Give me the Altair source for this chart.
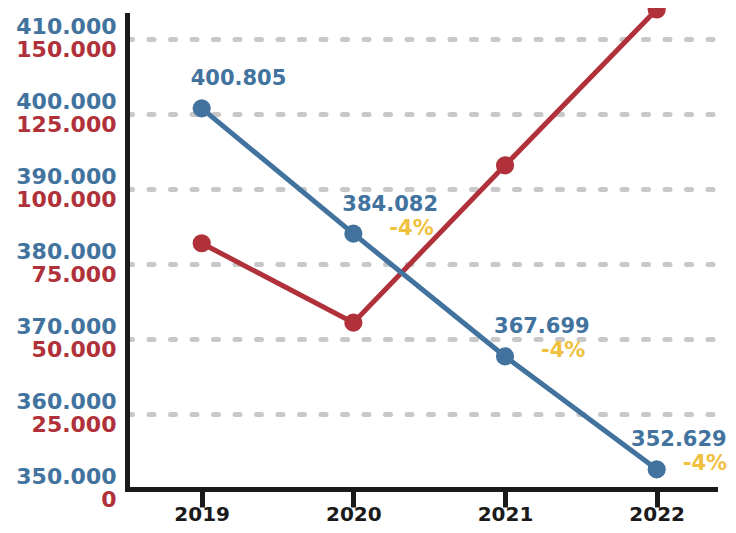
import altair as alt
import pandas as pd

years = [2019, 2020, 2021, 2022]
blue_values = [400805, 384082, 367699, 352629]
blue_labels = ["400.805", "384.082", "367.699", "352.629"]
red_values = [82000, 55500, 108000, 160000]
pct_labels = ["", "-4%", "-4%", "-4%"]

blue_ticks = [350000, 360000, 370000, 380000, 390000, 400000, 410000]
red_ticks = [0, 25000, 50000, 75000, 100000, 125000, 150000]

BLUE = "#41739e"
RED = "#b0313a"
GOLD = "#f0c03f"
BLACK = "#1a1a1a"
GRID = "#c8c8c8"
FONT = "DejaVu Sans"

df = pd.DataFrame({
    "year": years,
    "blue": blue_values,
    "blue_label": blue_labels,
    "red": red_values,
    "pct": pct_labels,
})

x = alt.X(
    "year:Q",
    scale=alt.Scale(domain=[2018.5075, 2022.3844], nice=False, zero=False),
    axis=alt.Axis(
        values=years, format="d", title=None, grid=False,
        domainColor=BLACK, domainWidth=5, domainCap="square",
        tickColor=BLACK, tickWidth=5, tickSize=18,
        labelFont=FONT, labelFontSize=20, labelFontWeight="bold",
        labelColor=BLACK, labelPadding=13, labelBaseline="alphabetic",
    ),
)

label_expr = "replace(format(datum.value, ','), ',', '.')"

y_blue = alt.Y(
    "blue:Q",
    scale=alt.Scale(domain=[350000, 413268], nice=False, zero=False),
    axis=alt.Axis(
        values=blue_ticks, title=None, labelExpr=label_expr, orient="left",
        grid=True, gridColor=GRID, gridWidth=5, gridDash=[5, 16.5], gridCap="round",
        domainColor=BLACK, domainWidth=5, domainCap="square", ticks=False,
        labelFont=FONT, labelFontSize=22, labelFontWeight="bold",
        labelColor=BLUE, labelPadding=11, labelOffset=-13, labelBaseline="middle",
    ),
)

y_red = alt.Y(
    "red:Q",
    scale=alt.Scale(domain=[0, 158170], nice=False, zero=False),
    axis=alt.Axis(
        values=red_ticks, title=None, labelExpr=label_expr, orient="left",
        grid=False, domain=False, ticks=False,
        labelFont=FONT, labelFontSize=22, labelFontWeight="bold",
        labelColor=RED, labelPadding=11, labelOffset=10, labelBaseline="middle",
    ),
)

base = alt.Chart(df)
early = base.transform_filter(alt.datum.year < 2022)
last = base.transform_filter(alt.datum.year == 2022)

red_layer = alt.layer(
    base.mark_line(color=RED, strokeWidth=5).encode(x=x, y=y_red),
    base.mark_circle(color=RED, size=330, opacity=1).encode(x=x, y=y_red),
)

txt = dict(font=FONT, fontWeight="bold", baseline="middle")

blue_layer = alt.layer(
    base.mark_line(color=BLUE, strokeWidth=5).encode(x=x, y=y_blue),
    base.mark_circle(color=BLUE, size=330, opacity=1).encode(x=x, y=y_blue),
    early.mark_text(align="left", dx=-11, dy=-29, fontSize=21, color=BLUE, **txt)
        .encode(x=x, y=y_blue, text="blue_label:N"),
    last.mark_text(align="right", dx=70, dy=-29, fontSize=21, color=BLUE, **txt)
        .encode(x=x, y=y_blue, text="blue_label:N"),
    early.mark_text(align="left", dx=36, dy=-5, fontSize=21, color=GOLD, **txt)
        .encode(x=x, y=y_blue, text="pct:N"),
    last.mark_text(align="left", dx=26, dy=-5, fontSize=21, color=GOLD, **txt)
        .encode(x=x, y=y_blue, text="pct:N"),
)

chart = alt.layer(red_layer, blue_layer).resolve_scale(y="independent").properties(
    width=588, height=474,
    background="white",
    autosize=alt.AutoSizeParams(type="none"),
    padding={"left": 119, "top": 7, "right": 13, "bottom": 36},
).configure_view(strokeWidth=0, stroke="transparent")

chart.save("out.html", embed_options={"renderer": "svg", "actions": False})
